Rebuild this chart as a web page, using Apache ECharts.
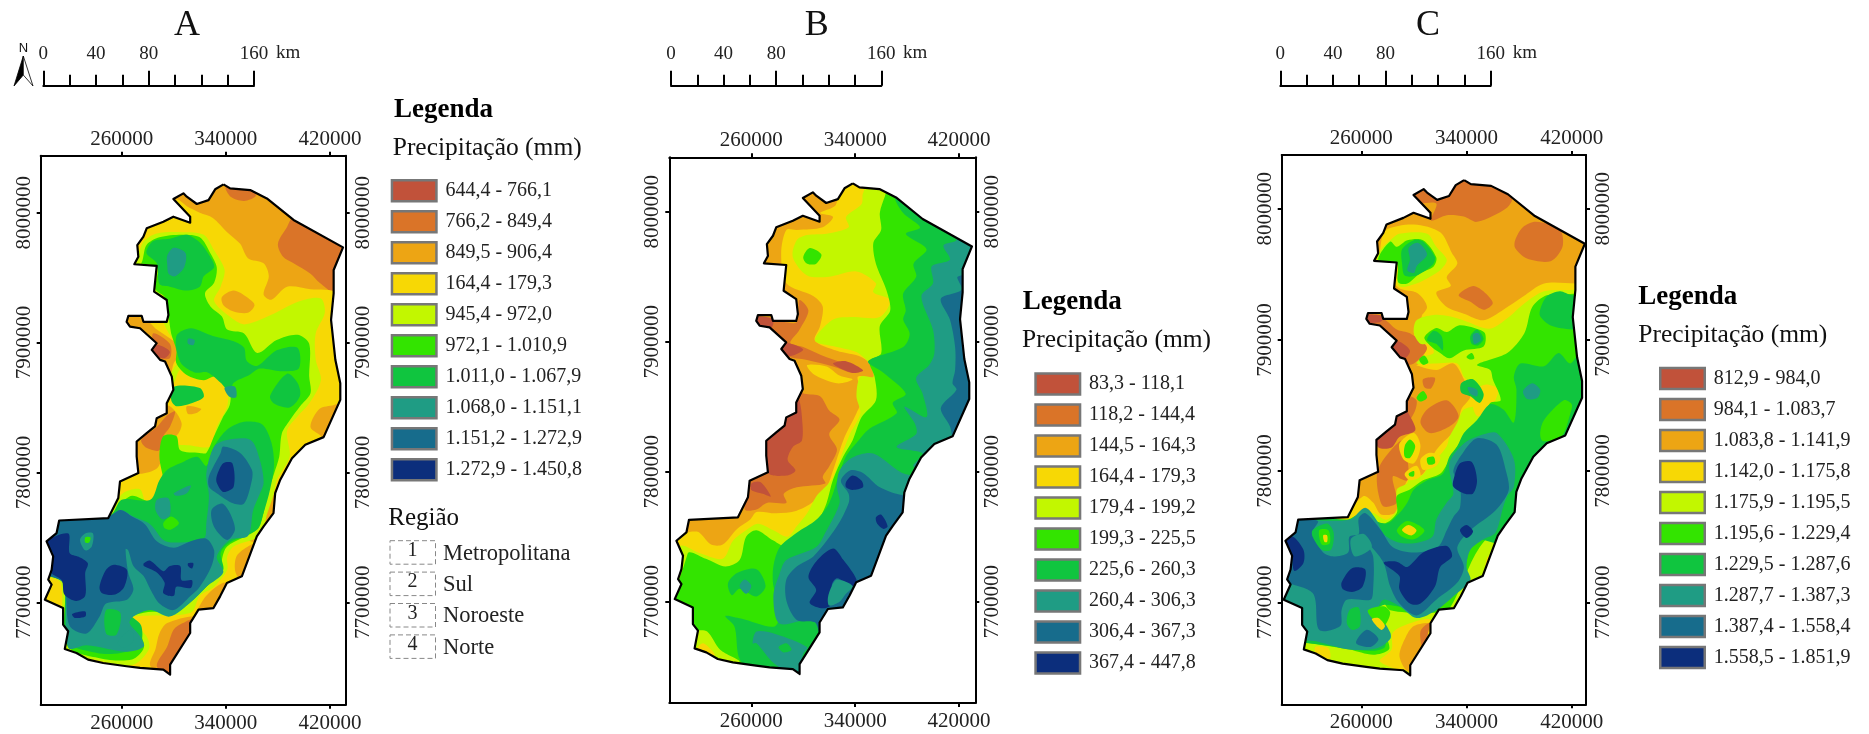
<!DOCTYPE html>
<html><head><meta charset="utf-8">
<style>html,body{margin:0;padding:0;background:#fff}#c{width:1869px;height:734px}</style>
<script src="https://cdn.jsdelivr.net/npm/echarts@6/dist/echarts.min.js"></script>
</head><body><div id="c"></div>
<script>
// Map tick labels (metres, UTM)
const eastingTicks = [260000, 340000, 420000];
const northingTicks = [7700000, 7800000, 7900000, 8000000];
const scaleLabels = [0, 40, 80, 160];
const bandColors = ['#C1523A','#DA7428','#EDA514','#F7D805','#C2F700','#33E400','#10C53F','#1F9C84','#176C8C','#0C2E7C'];
const legendA = ['644,4 - 766,1','766,2 - 849,4','849,5 - 906,4','164,4 - 179,3','945,4 - 972,0','972,1 - 1.010,9','1.011,0 - 1.067,9','1.068,0 - 1.151,1','1.151,2 - 1.272,9','1.272,9 - 1.450,8'];
const legendB = ['83,3 - 118,1','118,2 - 144,4','144,5 - 164,3','164,4 - 179,3','179,4 - 199,2','199,3 - 225,5','225,6 - 260,3','260,4 - 306,3','306,4 - 367,3','367,4 - 447,8'];
const legendC = ['812,9 - 984,0','984,1 - 1.083,7','1.083,8 - 1.141,9','1.142,0 - 1.175,8','1.175,9 - 1.195,5','1.195,6 - 1.229,4','1.229,5 - 1.287,6','1.287,7 - 1.387,3','1.387,4 - 1.558,4','1.558,5 - 1.851,9'];
const regions = ['Metropolitana','Sul','Noroeste','Norte'];
// State outline: easting km, northing km
const outlineKm = [338.2,8021.8,331.8,8018,326.7,8009.7,317.7,8006.7,310,8012.3,307.4,8014.9,299.7,8010.5,312.6,7996.9,312.6,7992.3,299.7,7996.9,292,7993,279.2,7988,276.7,7981.5,272,7975,272.8,7966,269.7,7960.3,286.9,7959,284.9,7939.2,294.6,7932.8,295.9,7921.3,294.6,7916,276.7,7916,275.4,7920.5,265.1,7920.5,263.8,7916,266.4,7912.3,274.1,7911,286.9,7899.5,283.1,7894.4,289.5,7886.7,293.3,7885.4,298.5,7873.8,299.7,7863.6,294.6,7853.3,294.6,7845.6,286.9,7841.8,285.6,7835.4,279.2,7830.3,271.5,7823.8,271.5,7812.3,272.8,7799.5,258.7,7793,257.4,7780.3,249.7,7764.9,212,7763,210,7753.3,202.3,7746.9,207.4,7735.4,206.2,7725,203.6,7717.4,206.2,7713.6,201,7702,215,7695.6,215,7682.8,218.9,7677.7,216.3,7664.1,225.3,7661,234.2,7655.9,245.8,7653.3,263.7,7650.8,274.1,7649.5,292,7648.2,297.2,7644.4,297.2,7652,312.6,7676.4,312.6,7684,319,7694.4,330.5,7695.6,335.6,7704.6,340.8,7714.9,352.3,7720,363.8,7750.8,369,7758.4,376.6,7768.7,377.9,7784.1,381.8,7794.4,390.8,7811,401,7821.3,415.1,7827.2,427.9,7855.9,427.9,7868.7,424.1,7886.7,420.8,7917.4,422.8,7937.9,422.8,7955.9,430,7973.3,392,7994.4,371.5,8011,358.7,8017.4,343.3,8018.7];
// Contours, painted in order: [band, [easting km, northing km, ...]]
const contoursA = [
[2,[195,8030,435,8030,435,7640,195,7640]],
[1,[380,7976,387,7989,392,7996,433,7975,425,7940,423,7938,412,7946,405,7953,392,7961,384,7966]],
[1,[340,8020,344,8012,354,8009,363,8013,359,8020]],
[3,[310,8005,320,8000,330,7996,341,7985,351,7976,357,7965,369,7961,373,7951,369,7937,375,7933,387,7943,405,7941,425,7938,433,7907,433,7856,423,7852,412,7849,405,7835,414,7826,397,7805,346,7753,372,7740,320,7625,205,7625,192,7779,243,7805,256,7907,256,7933,282,7997,302,8010]],
[2,[337,7935,346,7940,356,7935,362,7929,357,7923,346,7924,338,7929]],
[2,[261,7921,278,7918,287,7910,300,7901,307,7894,300,7884,297,7874,290,7882,279,7895,261,7910]],
[1,[284,7907,297,7899,297,7888,287,7889]],
[0,[283,7896,289,7898,297,7893,293,7888,286,7890]],
[2,[297,7851,306,7838,302,7828,292,7825,291,7812,287,7803,273,7799,268,7805,268,7828,287,7848]],
[1,[301,7847,297,7835,292,7828,289,7817,279,7819,275,7825,287,7835,295,7844]],
[2,[310,7851,321,7849,318,7846,311,7845]],
[2,[318,7689,295,7684,289,7676,286,7664,282,7651,300,7640,318,7676]],
[1,[315,7687,313,7676,298,7643,287,7651,295,7666,300,7679,307,7684]],
[2,[348,7735,354,7741,365,7746,357,7725,350,7719,347,7725]],
[2,[318,7693,325,7705,338,7715,345,7712,333,7697,320,7692]],
[4,[273,7969,277,7978,287,7984,306,7985,323,7983,331,7971,339,7956,336,7943,331,7932,343,7920,354,7914,372,7920,397,7932,413,7934,416,7923,409,7907,409,7887,413,7871,404,7853,395,7843,387,7832,389,7812,379,7794,377,7784,372,7769,366,7751,346,7743,341,7735,341,7725,331,7712,320,7705,313,7692,269,7689,268,7685,279,7674,281,7664,269,7652,243,7655,216,7664,213,7715,197,7723,197,7746,210,7765,250,7766,255,7774,261,7784,274,7787,279,7776,289,7782,295,7792,292,7807,295,7820,310,7821,328,7820,333,7835,341,7851,341,7864,330,7879,318,7876,305,7879,300,7869,297,7874,307,7894,297,7906,292,7917,292,7935,283,7941,284,7958,268,7961]],
[5,[275,7961,279,7975,289,7981,306,7983,320,7981,328,7969,333,7958,331,7946,324,7938,328,7928,337,7920,341,7910,354,7907,364,7892,379,7902,395,7906,404,7899,404,7874,405,7861,397,7851,389,7840,383,7830,381,7812,377,7799,372,7784,369,7769,364,7756,341,7743,337,7733,336,7723,325,7712,313,7702,305,7694,277,7692,265,7687,274,7676,277,7665,268,7656,243,7657,218,7667,215,7715,198,7724,198,7746,210,7766,251,7767,259,7776,268,7782,282,7778,292,7789,289,7812,292,7828,302,7828,305,7817,320,7815,325,7815,331,7828,338,7843,343,7852,343,7862,333,7874,323,7871,310,7875,302,7884,302,7894,298,7907,296,7920,293,7935,286,7941,287,7958,269,7961]],
[6,[279,7969,284,7978,297,7980,310,7983,320,7977,328,7966,331,7958,323,7951,320,7943,310,7940,297,7943,289,7945,287,7961]],
[7,[295,7967,300,7973,309,7969,308,7958,301,7951,296,7953,295,7960]],
[6,[302,7905,313,7911,330,7905,346,7901,354,7896,356,7886,364,7882,379,7894,395,7896,396,7880,382,7878,366,7880,358,7875,346,7869,343,7862,336,7869,326,7877,316,7877,305,7885]],
[6,[374,7859,387,7876,395,7869,397,7859,389,7850,377,7853]],
[6,[300,7866,320,7865,323,7858,313,7853,302,7851,298,7856]],
[6,[210,7766,251,7767,260,7779,282,7779,289,7794,295,7802,305,7807,318,7812,325,7805,331,7820,341,7833,354,7839,368,7837,375,7823,377,7805,374,7787,369,7769,364,7756,343,7746,336,7738,338,7725,328,7715,315,7702,300,7692,277,7696,265,7692,275,7682,274,7667,259,7661,241,7661,218,7670,215,7715,198,7724,198,7746]],
[5,[292,7761,298,7766,304,7761,298,7756,293,7757]],
[7,[210,7764,251,7766,259,7771,269,7766,282,7760,292,7748,300,7746,323,7749,325,7761,327,7782,325,7799,331,7820,341,7825,359,7825,366,7810,369,7792,365,7781,361,7771,357,7751,343,7748,333,7735,338,7723,325,7712,313,7700,297,7689,282,7694,269,7689,266,7684,274,7674,277,7666,264,7662,233,7667,219,7665,215,7715,198,7724,198,7746]],
[6,[248,7694,259,7692,256,7675,248,7676]],
[7,[257,7669,265,7678,269,7676,268,7669,261,7665]],
[7,[287,7779,296,7780,297,7767,291,7764,286,7771]],
[7,[300,7784,313,7790,310,7784,302,7782]],
[7,[339,7865,347,7866,348,7858,343,7858]],
[7,[311,7903,316,7902,315,7898,311,7899]],
[8,[210,7764,248,7765,259,7771,268,7766,278,7760,287,7747,300,7742,313,7747,325,7749,331,7740,329,7728,320,7712,313,7705,300,7694,289,7699,282,7710,277,7720,269,7728,265,7740,263,7741,265,7723,269,7710,264,7702,248,7699,243,7689,233,7676,220,7682,215,7715,198,7724,198,7746]],
[7,[228,7748,232,7753,238,7753,237,7743,232,7740]],
[5,[232,7750,236,7750,235,7746,232,7746]],
[8,[327,7797,336,7815,338,7820,351,7815,360,7802,360,7794,354,7776,346,7776,333,7784,327,7789]],
[8,[329,7771,337,7776,343,7769,347,7756,341,7748,331,7758]],
[9,[333,7797,338,7807,345,7807,346,7789,338,7785,333,7792]],
[9,[202,7747,219,7753,220,7738,227,7735,234,7730,232,7723,232,7705,225,7701,216,7706,214,7717,206,7723,207,7738,205,7741]],
[9,[243,7712,248,7725,254,7729,264,7725,262,7712,255,7706,245,7707]],
[9,[277,7730,282,7732,292,7724,297,7728,305,7728,306,7717,314,7717,313,7711,302,7712,300,7705,292,7707,293,7715,287,7723,277,7728]],
[9,[311,7730,315,7730,314,7726,311,7728]],
[9,[222,7691,232,7693,232,7689,224,7688]]
];
const contoursB = [
[2,[195,8030,435,8030,435,7640,195,7640]],
[3,[200,7747,218,7754,229,7744,238,7744,249,7756,259,7763,264,7769,279,7768,295,7770,308,7777,318,7788,324,7804,332,7827,341,7845,346,7858,342,7873,354,7872,372,7868,345,7888,326,7893,309,7901,313,7912,315,7927,308,7935,287,7945,283,7968,287,7986,295,7986,315,7988,323,7996,313,7999,325,8005,330,8022,440,8022,440,7640,195,7640]],
[3,[303,7882,318,7881,328,7874,338,7871,326,7868,308,7875]],
[1,[301,7860,313,7858,320,7847,328,7840,320,7829,326,7817,320,7804,315,7796,317,7791,295,7788,285,7783,287,7776,272,7776,264,7771,255,7771,258,7791,269,7799,272,7845,295,7863]],
[1,[263,7919,277,7917,295,7915,297,7932,304,7924,297,7909,290,7899,300,7896,318,7888,346,7878,338,7876,323,7881,303,7886,287,7889,279,7899,272,7909,264,7910]],
[0,[263,7919,276,7918,277,7914,274,7909,264,7910]],
[0,[282,7897,288,7899,300,7894,290,7889,282,7893]],
[0,[323,7883,333,7885,346,7878,338,7876]],
[0,[297,7855,299,7842,299,7824,292,7819,288,7809,294,7801,287,7797,273,7799,269,7822,282,7837,294,7858]],
[0,[260,7791,267,7792,275,7781,269,7783,260,7786]],
[4,[205,7742,221,7737,238,7733,246,7747,256,7755,265,7760,277,7755,288,7750,295,7758,303,7768,310,7781,322,7794,328,7809,336,7829,344,7845,341,7858,344,7873,354,7873,351,7883,341,7892,326,7896,309,7901,323,7917,338,7919,359,7919,367,7932,354,7938,356,7945,341,7954,320,7950,303,7951,292,7965,295,7978,303,7982,318,7983,335,7988,333,7996,345,8006,346,8014,355,8030,440,8030,440,7630,195,7630]],
[5,[211,7737,225,7733,240,7727,251,7732,256,7750,264,7755,277,7747,288,7742,305,7754,313,7765,318,7776,323,7794,331,7812,338,7824,345,7842,356,7855,355,7873,351,7885,360,7891,359,7912,367,7924,364,7940,356,7960,354,7976,360,7986,359,7999,363,8012,370,8030,440,8030,440,7630,195,7630]],
[5,[300,7965,305,7972,314,7967,310,7960,303,7960]],
[4,[218,7677,226,7677,236,7663,251,7654,236,7654,217,7663]],
[3,[223,7668,232,7659,218,7663]],
[6,[253,7653,247,7681,240,7689,252,7687,278,7681,282,7696,277,7712,277,7727,282,7742,295,7753,310,7763,320,7776,327,7796,333,7812,341,7822,351,7833,372,7845,369,7853,379,7860,362,7876,350,7885,377,7896,382,7906,377,7917,379,7924,377,7937,387,7950,385,7960,395,7971,379,7983,390,7988,377,7999,370,8012,372,8030,440,8030,440,7630,300,7630]],
[6,[242,7714,249,7722,264,7725,271,7712,264,7704,251,7710,245,7705]],
[7,[251,7712,255,7717,260,7712,256,7706]],
[7,[413,7986,418,7978,408,7974,413,7963,399,7958,400,7945,391,7935,400,7909,401,7891,397,7882,387,7872,392,7860,395,7842,378,7850,386,7837,387,7829,372,7819,392,7814,385,7804,440,7800,440,7986]],
[7,[261,7668,264,7677,279,7675,303,7665,300,7660,295,7642,277,7653,264,7668]],
[6,[281,7665,287,7668,291,7663,285,7661]],
[7,[311,7686,282,7683,277,7704,282,7722,287,7732,310,7742,317,7753,328,7776,326,7788,328,7801,338,7811,354,7814,379,7798,440,7790,440,7640,320,7640]],
[8,[419,7950,422,7940,406,7933,413,7917,417,7896,417,7878,415,7868,418,7863,406,7849,413,7835,417,7824,440,7840,440,7950]],
[8,[310,7683,295,7686,287,7701,287,7717,295,7727,308,7735,326,7758,335,7776,335,7783,329,7793,336,7801,346,7799,359,7788,377,7782,440,7780,440,7640,320,7640]],
[9,[304,7719,310,7731,323,7741,331,7732,341,7717,338,7712,326,7718,322,7712,328,7704,317,7695,305,7699,310,7709]],
[7,[326,7717,338,7712,332,7705,328,7700,320,7697,319,7703,322,7712]],
[9,[333,7792,338,7797,345,7793,346,7788,338,7786,333,7788]],
[9,[356,7765,360,7767,365,7758,362,7756,357,7760]]
];
const contoursC = [
[2,[195,8030,435,8030,435,7640,195,7640]],
[1,[295,8018,345,8028,362,8020,375,8010,371,8001,348,7990,338,7994,325,7995,313,7991,317,8004,300,8005]],
[1,[377,7976,383,7986,393,7990,411,7984,413,7971,404,7960,386,7962,377,7970]],
[1,[334,7934,345,7941,354,7936,360,7928,353,7923,343,7929]],
[3,[275,7974,279,7984,300,7988,320,7982,329,7966,333,7958,325,7948,328,7941,317,7936,325,7925,338,7920,353,7915,368,7923,383,7933,399,7943,423,7943,440,7943,440,7640,195,7640,195,7770,250,7780,270,7850,285,7905,305,7915,303,7935,288,7940,275,7960]],
[2,[297,7882,317,7877,330,7882,338,7870,343,7857,336,7847,333,7834,317,7816,307,7798,295,7793,287,7769,275,7767,269,7776,262,7781,251,7771,259,7793,269,7798,272,7826,287,7839,295,7862,295,7882]],
[2,[283,7936,302,7936,310,7925,303,7915,300,7905,307,7885,297,7880,277,7908,262,7915,263,7923,295,7919,297,7930]],
[1,[263,7919,277,7916,287,7908,297,7905,310,7894,300,7882,292,7882,282,7895,269,7909]],
[0,[282,7895,288,7899,297,7892,293,7886,286,7889]],
[0,[263,7919,277,7918,275,7914,269,7913,264,7913]],
[1,[310,7847,325,7854,334,7842,327,7834,312,7829,305,7837]],
[1,[273,7821,287,7826,300,7844,302,7854,295,7857,284,7839,272,7826]],
[1,[277,7809,292,7824,295,7811,295,7793,284,7796,287,7776,277,7773,273,7783,272,7798]],
[1,[307,7870,316,7871,313,7863,308,7864]],
[0,[297,7842,301,7831,289,7826,283,7818,273,7818,272,7826,284,7837,293,7847]],
[4,[419,7938,399,7937,383,7927,373,7918,360,7909,353,7909,340,7914,327,7918,315,7919,302,7915,300,7905,305,7897,312,7897,315,7890,307,7887,302,7882,317,7882,333,7882,338,7872,348,7862,353,7852,338,7847,333,7837,327,7826,325,7819,317,7809,312,7804,305,7796,297,7798,295,7791,287,7786,287,7771,279,7763,269,7768,262,7768,250,7763,195,7763,195,7640,440,7640,440,7938]],
[4,[275,7969,282,7976,289,7981,310,7981,317,7971,325,7961,320,7953,312,7948,302,7943,289,7941,287,7958,272,7960]],
[3,[289,7821,300,7829,305,7819,300,7806,292,7809]],
[3,[305,7809,312,7814,320,7811,317,7804,307,7801]],
[3,[293,7798,302,7804,305,7796,297,7793]],
[3,[312,7687,297,7684,284,7677,283,7664,274,7655,295,7649,317,7677]],
[3,[225,7666,235,7665,236,7657,226,7660]],
[3,[347,7862,355,7866,364,7862,358,7847,348,7842,344,7855]],
[2,[294,7674,300,7682,312,7684,310,7677,305,7661,296,7647,289,7659]],
[1,[305,7678,312,7684,307,7664]],
[5,[419,7935,401,7934,390,7925,384,7905,371,7890,348,7881,358,7877,360,7870,366,7854,358,7852,353,7842,338,7826,330,7814,325,7805,320,7798,307,7793,297,7786,287,7781,287,7768,277,7760,259,7767,249,7763,195,7763,195,7670,214,7670,226,7668,251,7664,269,7660,281,7664,279,7674,274,7683,264,7694,275,7702,282,7694,317,7692,327,7695,350,7742,372,7760,440,7770,440,7935]],
[4,[350,7740,364,7745,369,7743,361,7720,355,7727,350,7734]],
[3,[356,7735,358,7733,354,7725]],
[5,[308,7902,317,7909,325,7906,334,7911,346,7909,354,7905,353,7895,338,7892,327,7886,320,7890,312,7896]],
[5,[304,7885,308,7888,311,7883,307,7881]],
[5,[340,7887,344,7890,346,7886,343,7885]],
[5,[302,7856,307,7861,310,7856,305,7853]],
[5,[293,7819,297,7824,301,7819,297,7810,293,7811]],
[5,[310,7810,315,7811,316,7806,311,7805]],
[5,[296,7798,300,7800,300,7796,297,7796]],
[4,[273,7961,282,7975,287,7975,295,7978,307,7978,319,7963,317,7955,305,7948,295,7941,288,7942,287,7958]],
[5,[273,7961,282,7975,287,7971,295,7976,307,7976,317,7963,315,7956,305,7951,295,7943,288,7944,287,7958]],
[6,[291,7969,300,7976,307,7975,316,7963,314,7957,302,7949,293,7949,291,7958]],
[7,[296,7970,303,7974,310,7965,302,7956,300,7951,295,7953,297,7961]],
[6,[310,7900,315,7907,321,7903,322,7892,317,7897]],
[6,[343,7903,348,7908,353,7901,349,7896,344,7897]],
[7,[345,7904,349,7905,351,7900,346,7897]],
[6,[336,7867,345,7870,353,7859,350,7852,343,7857,336,7860]],
[7,[341,7864,348,7862,348,7857,343,7859]],
[6,[396,7923,401,7933,411,7937,420,7934,440,7934,440,7908,420,7908,404,7911,396,7918]],
[6,[429,7895,419,7882,410,7890,399,7880,381,7882,376,7872,378,7862,376,7837,368,7847,358,7851,348,7839,338,7829,333,7819,327,7811,322,7798,310,7793,300,7786,295,7776,289,7768,279,7760,262,7765,250,7763,195,7763,195,7669,218,7669,249,7665,267,7663,278,7666,277,7679,273,7695,277,7698,287,7697,317,7694,325,7702,338,7715,340,7730,345,7748,370,7745,380,7770,440,7780,440,7895]],
[7,[383,7861,390,7867,396,7862,394,7856,386,7855]],
[5,[396,7829,399,7839,414,7854,420,7851,419,7844,412,7826,398,7823]],
[5,[287,7755,295,7762,308,7755,300,7748,291,7750]],
[3,[291,7755,296,7759,302,7755,298,7751]],
[7,[212,7763,251,7763,263,7772,272,7762,277,7752,287,7746,300,7745,314,7750,317,7763,325,7776,330,7783,327,7806,338,7821,353,7828,363,7829,376,7809,376,7788,371,7781,368,7773,362,7753,353,7748,343,7740,340,7727,343,7717,333,7707,317,7694,302,7688,289,7697,277,7702,273,7694,282,7677,282,7672,272,7665,251,7664,227,7670,217,7672,195,7700,195,7763]],
[6,[251,7694,258,7696,259,7682,253,7679,249,7684]],
[5,[265,7694,277,7697,282,7692,277,7682,269,7687]],
[3,[268,7687,273,7688,278,7682,275,7679]],
[8,[256,7669,264,7679,273,7672,267,7666]],
[8,[212,7763,227,7762,223,7753,231,7738,239,7735,250,7738,251,7750,258,7752,258,7764,263,7768,275,7755,284,7742,300,7738,318,7742,325,7755,330,7765,335,7772,335,7790,330,7800,338,7815,348,7825,363,7820,370,7800,372,7785,362,7770,343,7755,333,7742,338,7727,333,7715,317,7702,302,7690,289,7699,282,7712,277,7730,268,7742,264,7745,269,7735,269,7710,267,7702,249,7702,245,7694,244,7682,228,7679,223,7707,195,7720,195,7763]],
[7,[255,7735,268,7742,262,7752,252,7748]],
[6,[223,7755,234,7760,239,7753,237,7740,230,7740,223,7750]],
[5,[228,7755,235,7755,236,7745,230,7744]],
[3,[231,7751,234,7751,234,7746,232,7746]],
[9,[203,7746,208,7750,216,7740,216,7730,209,7724,207,7738]],
[9,[245,7715,253,7726,263,7725,261,7712,254,7708,246,7710]],
[9,[277,7730,287,7731,295,7727,307,7738,325,7743,329,7735,320,7727,316,7712,305,7699,297,7699,289,7710,289,7720]],
[9,[330,7793,335,7806,344,7807,348,7793,345,7783,338,7783,330,7788]],
[9,[335,7755,340,7759,345,7754,340,7749]]
];

const serif = '"Liberation Serif","Times New Roman",serif';
const panels = [
 {contours:contoursA,names:legendA,grid:[40.7,155.7,305,549],x:[197810,432050],y:[7621170,8043880]},
 {contours:contoursB,names:legendB,grid:[669.3,157.3,306,545.7],x:[196830,432560],y:[7622080,8041850]},
 {contours:contoursC,names:legendC,grid:[1281.7,155,304.3,549.3],x:[199470,430870],y:[7622260,8040930]}
];
const scaleBars = [[43.3,210.7,276],[671,210.3,903],[1280.3,210.4,1512.7]];
const grids=[],xAxes=[],yAxes=[],series=[];
const plain = v=>String(v);
const black = {color:'#000',width:2};
function mapX(p,pos){return {gridIndex:p,type:'value',position:pos,min:panels[p].x[0],max:panels[p].x[1],splitLine:{show:false},
  axisLine:{show:true,onZero:false,lineStyle:black},axisTick:{show:true,length:4,lineStyle:black,customValues:eastingTicks},
  axisLabel:{show:true,customValues:eastingTicks,formatter:plain,fontFamily:serif,fontSize:21,color:'#222',margin:pos==='top'?6:8}};}
function mapY(p,pos){return {gridIndex:p,type:'value',position:pos,min:panels[p].y[0],max:panels[p].y[1],splitLine:{show:false},
  axisLine:{show:true,onZero:false,lineStyle:black},axisTick:{show:true,length:4,lineStyle:black,customValues:northingTicks},
  axisLabel:{show:true,customValues:northingTicks,formatter:plain,rotate:90,fontFamily:serif,fontSize:21,color:'#222',margin:pos==='left'?6:7}};}
const lineOutline=[];for(let i=0;i<outlineKm.length;i+=2)lineOutline.push([outlineKm[i]*1000,outlineKm[i+1]*1000]);
lineOutline.push(lineOutline[0]);
panels.forEach((P,p)=>{
  grids.push({left:P.grid[0],top:P.grid[1],width:P.grid[2],height:P.grid[3],containLabel:false});
  xAxes.push(mapX(p,'bottom'),mapX(p,'top'));
  yAxes.push(mapY(p,'left'),mapY(p,'right'));
  P.names.forEach((name,band)=>{
    const items=[];
    P.contours.forEach((c,order)=>{if(c[0]===band)items.push(order);});
    series.push({type:'custom',name,coordinateSystem:'cartesian2d',xAxisIndex:p*2,yAxisIndex:p*2,clip:false,silent:true,animation:false,
      itemStyle:{color:bandColors[band]},
      data:items.map(o=>[P.contours[o][1][0]*1000,P.contours[o][1][1]*1000,o]),
      renderItem(params,api){
        const order=api.value(2);
        const km=P.contours[order][1];const pts=[];
        for(let i=0;i<km.length;i+=2)pts.push(api.coord([km[i]*1000,km[i+1]*1000]));
        const clip=lineOutline.map(q=>api.coord(q));
        return {type:'polygon',z2:order,shape:{points:pts,smooth:0.3},style:{fill:bandColors[band],stroke:null},silent:true,
          clipPath:{type:'polygon',shape:{points:clip}}};
      }});
  });
  series.push({type:'line',name:'Contorno',xAxisIndex:p*2,yAxisIndex:p*2,data:lineOutline,symbol:'none',silent:true,animation:false,z:6,
    lineStyle:{color:'#000',width:2.2,join:'round'}});
});
scaleBars.forEach((s,k)=>{
  grids.push({left:s[0],top:85.7,width:s[1],height:1});
  const idx=3+k;
  xAxes.push({gridIndex:idx,type:'value',position:'top',min:0,max:160,splitLine:{show:false},
    axisLine:{show:true,onZero:false,lineStyle:black},
    axisTick:{show:true,length:15,lineStyle:black,customValues:[0,80,160]},
    axisLabel:{show:true,customValues:scaleLabels,formatter:plain,fontFamily:serif,fontSize:19,color:'#222',margin:22}});
  xAxes.push({gridIndex:idx,type:'value',position:'top',min:0,max:160,splitLine:{show:false},
    axisLine:{show:false,onZero:false},
    axisTick:{show:true,length:11,lineStyle:black,customValues:[20,40,60,100,120,140]},axisLabel:{show:false}});
  yAxes.push({gridIndex:idx,type:'value',show:false,min:0,max:1},{gridIndex:idx,type:'value',show:false,min:0,max:1});
});
const legendCfg=[[385.7,174,legendA],[1029.3,367.3,legendB],[1654,361.7,legendC]];
const legends=legendCfg.map(L=>({orient:'vertical',left:L[0],top:L[1],itemWidth:44.5,itemHeight:21,itemGap:7.5,icon:'rect',selectedMode:false,data:L[2],
  itemStyle:{borderColor:'#777',borderWidth:2.5},textStyle:{fontFamily:serif,fontSize:20,color:'#222',padding:[0,0,0,4]}}));
const T=(text,left,cy,size,opt)=>Object.assign({text,left,top:cy-size*0.45,padding:0,textStyle:Object.assign({fontFamily:serif,fontSize:size,fontWeight:'normal',color:'#111'},opt||{})});
const titles=[
 Object.assign(T('A',187,24,36),{textAlign:'center'}),Object.assign(T('B',816.7,24,36),{textAlign:'center'}),Object.assign(T('C',1428,24,36),{textAlign:'center'}),
 T('Legenda',394,108.3,27,{fontWeight:'bold',color:'#000'}),T('Precipitação (mm)',392.7,146.7,25.5),T('Região',388.3,517.3,25),
 T('Legenda',1022.7,300.7,27,{fontWeight:'bold',color:'#000'}),T('Precipitação (mm)',1022,339,25.5),
 T('Legenda',1638.3,296,27,{fontWeight:'bold',color:'#000'}),T('Precipitação (mm)',1638.3,333.3,25.5)
];
const gfx=[];
scaleBars.forEach(s=>gfx.push({type:'text',left:s[2],top:44,style:{text:'km',font:'19px '+serif,fill:'#222'}}));
regions.forEach((r,i)=>{
  const y=540.7+i*31.4;
  gfx.push({type:'rect',shape:{x:390,y,width:45.5,height:23.5},style:{fill:'#fff',stroke:'#888',lineWidth:1,lineDash:[5,3]}});
  gfx.push({type:'text',style:{x:412.5,y:y+10,text:String(i+1),font:'20px '+serif,fill:'#222',align:'center',verticalAlign:'middle'}});
  gfx.push({type:'text',style:{x:443,y:y+13,text:r,font:'22.5px '+serif,fill:'#222',verticalAlign:'middle'}});
});
gfx.push({type:'text',style:{x:23.5,y:48,text:'N',font:'13px "Liberation Sans",sans-serif',fill:'#111',align:'center',verticalAlign:'middle'}});
gfx.push({type:'polygon',shape:{points:[[23.3,56],[14,86],[23.3,75]]},style:{fill:'#000',stroke:'#000',lineWidth:0.8}});
gfx.push({type:'polygon',shape:{points:[[23.3,56],[33,86],[23.3,75]]},style:{fill:'#fff',stroke:'#000',lineWidth:0.8}});
const chart=echarts.init(document.getElementById('c'),null,{renderer:'canvas'});
chart.setOption({animation:false,backgroundColor:'#fff',title:titles,legend:legends,grid:grids,xAxis:xAxes,yAxis:yAxes,series,graphic:{elements:gfx},tooltip:{show:false}});
</script></body></html>
